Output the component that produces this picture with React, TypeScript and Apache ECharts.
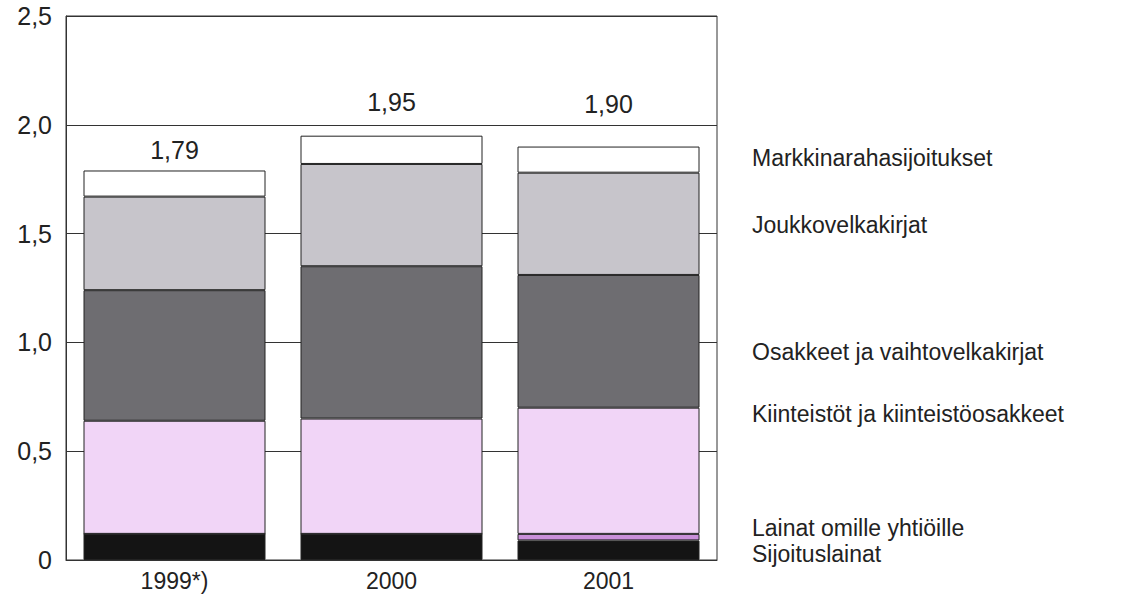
import React, { useEffect, useRef } from "react";
import * as echarts from "echarts";

const categories = ["1999*)", "2000", "2001"];
const seriesNames = [
  "Sijoituslainat",
  "Lainat omille yhtiöille",
  "Kiinteistöt ja kiinteistöosakkeet",
  "Osakkeet ja vaihtovelkakirjat",
  "Joukkovelkakirjat",
  "Markkinarahasijoitukset",
];
const sijoituslainat = [0.12, 0.12, 0.09];
const lainatOmille = [0, 0, 0.03];
const kiinteistot = [0.52, 0.53, 0.58];
const osakkeet = [0.6, 0.7, 0.61];
const joukkovelkakirjat = [0.43, 0.47, 0.47];
const markkinaraha = [0.12, 0.13, 0.12];
const yTicks = [0, 0.5, 1.0, 1.5, 2.0, 2.5];

const seriesValues = [sijoituslainat, lainatOmille, kiinteistot, osakkeet, joukkovelkakirjat, markkinaraha];
const colors = ["#141414", "#c98fd9", "#f1d5f7", "#6e6d71", "#c7c5cb", "#ffffff"];
const legendY = [554, 528, 414, 352, 225, 158];
const labelDistance = [8, 21, 30];

export default function App() {
  const ref = useRef<HTMLDivElement>(null);
  useEffect(() => {
    if (!ref.current) return;
    const chart = echarts.init(ref.current, null, { renderer: "svg" });
    const totals = categories.map((_, i) => seriesValues.reduce((s, arr) => s + arr[i], 0));
    const font = "Liberation Sans, Arial, sans-serif";
    const series: any[] = seriesValues.map((vals, si) => ({
      name: seriesNames[si],
      type: "bar",
      stack: "total",
      barWidth: 182,
      itemStyle: { color: colors[si], borderColor: "#222", borderWidth: 1 },
      data: vals.map((v, i) => {
        const item: any = { value: v };
        if (si === seriesValues.length - 1) {
          item.label = {
            show: true,
            position: "top",
            distance: labelDistance[i],
            formatter: () => totals[i].toFixed(2).replace(".", ","),
            fontSize: 25,
            fontFamily: font,
            color: "#222",
          };
        }
        return item;
      }),
    }));
    chart.setOption({
      animation: false,
      backgroundColor: "#ffffff",
      grid: {
        left: 66,
        right: 413,
        top: 16,
        bottom: 46,
        show: true,
        borderColor: "#333",
        borderWidth: 1,
        backgroundColor: "transparent",
      },
      xAxis: {
        type: "category",
        data: categories,
        axisTick: { show: false },
        axisLine: { show: true, lineStyle: { color: "#333", width: 1 } },
        axisLabel: { fontSize: 23, fontFamily: font, color: "#222", margin: 9 },
      },
      yAxis: {
        type: "value",
        min: yTicks[0],
        max: yTicks[yTicks.length - 1],
        interval: 0.5,
        axisLine: { show: true, lineStyle: { color: "#333" } },
        axisTick: { show: false },
        splitLine: { show: true, lineStyle: { color: "#333", width: 1 } },
        axisLabel: {
          fontSize: 25,
          fontFamily: font,
          color: "#222",
          margin: 14,
          formatter: (v: number) => (v === 0 ? "0" : v.toFixed(1).replace(".", ",")),
        },
      },
      series,
      graphic: seriesNames.map((name, i) => ({
        type: "text",
        x: 752,
        y: legendY[i],
        style: {
          text: name,
          font: `23px ${font}`,
          fill: "#222",
          verticalAlign: "middle",
        },
      })),
    });
    return () => chart.dispose();
  }, []);
  return (
    <div
      ref={ref}
      style={{ position: "fixed", left: 0, top: 0, width: 1130, height: 606, background: "#fff" }}
    />
  );
}
